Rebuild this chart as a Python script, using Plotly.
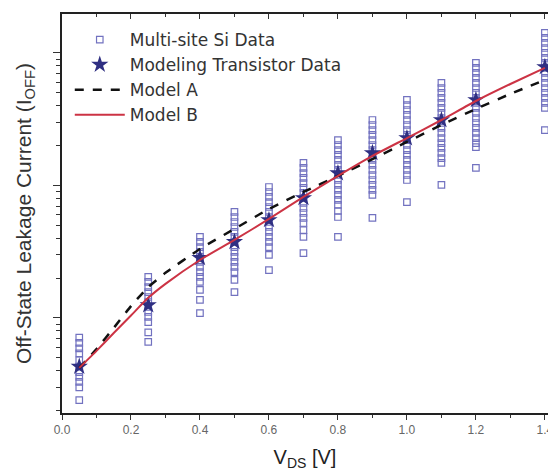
import plotly.graph_objects as go

# ---- data (I_OFF in nA, log scale) ----
vds_columns = [0.05, 0.25, 0.4, 0.5, 0.6, 0.7, 0.8, 0.9, 1.0, 1.1, 1.2, 1.4]
multisite = [
    [0.71, 0.65, 0.59, 0.54, 0.48, 0.43, 0.39, 0.36, 0.33, 0.30, 0.24],
    [2.04, 1.87, 1.71, 1.57, 1.44, 1.32, 1.21, 1.11, 1.02, 0.93, 0.78, 0.66],
    [4.09, 3.75, 3.43, 3.15, 2.89, 2.65, 2.43, 2.22, 2.04, 1.87, 1.63, 1.37, 1.09],
    [6.31, 5.78, 5.30, 4.86, 4.46, 4.09, 3.75, 3.43, 3.15, 2.89, 2.65, 2.43, 2.22, 1.94, 1.57],
    [9.74, 8.93, 8.19, 7.50, 6.88, 6.31, 5.78, 5.30, 4.86, 4.46, 4.09, 3.75, 3.43, 2.99, 2.30],
    [14.8, 13.6, 12.4, 11.4, 10.4, 9.58, 8.78, 8.05, 7.38, 6.76, 6.20, 5.69, 5.21, 4.61, 4.09, 3.09],
    [22.0, 20.2, 18.5, 17.0, 15.6, 14.3, 13.1, 12.0, 11.0, 10.1, 9.25, 8.48, 7.78, 7.13, 6.42, 5.78, 4.09],
    [31.2, 28.6, 26.2, 24.1, 22.0, 20.2, 18.5, 17.0, 15.6, 14.3, 13.1, 12.0, 11.0, 10.1, 9.25, 8.48, 5.69],
    [44.2, 40.5, 37.1, 34.1, 31.2, 28.6, 26.2, 24.1, 22.0, 20.2, 18.5, 17.0, 15.6, 14.3, 13.1, 12.0, 11.0, 7.50],
    [59.4, 54.4, 49.9, 45.8, 42.0, 38.5, 35.3, 32.3, 29.6, 27.2, 24.9, 22.8, 20.9, 19.2, 17.6, 16.1, 14.8, 10.1],
    [84.1, 77.1, 70.7, 64.8, 59.4, 54.4, 49.9, 45.8, 42.0, 38.5, 35.3, 32.3, 29.6, 27.2, 24.9, 22.8, 20.9, 19.5, 13.6],
    [141.6, 129.8, 119.0, 109.0, 100.0, 91.7, 84.1, 77.1, 70.7, 64.8, 59.4, 54.4, 49.9, 45.8, 42.0, 38.5, 26.2],
]
modeling_transistor = [0.43, 1.25, 2.84, 3.75, 5.49, 8.05, 12.4, 17.6, 22.8, 31.2, 44.2, 78.4]

model_vds = [0.05, 0.1, 0.15, 0.2, 0.25, 0.3, 0.4, 0.5, 0.6, 0.7, 0.8, 0.9, 1.0, 1.1, 1.2, 1.3, 1.4]
model_a = [0.42, 0.583, 0.841, 1.23, 1.71, 2.19, 3.32, 4.70, 6.65, 8.93, 11.8, 15.8, 21.3, 28.6, 37.8, 49.1, 62.5]
model_b = [0.42, 0.565, 0.77, 1.045, 1.42, 1.81, 2.74, 3.88, 5.59, 8.19, 11.8, 16.7, 22.8, 31.2, 43.4, 58.3, 77.1]

x_ticks = [0.0, 0.2, 0.4, 0.6, 0.8, 1.0, 1.2, 1.4]
x_tick_labels = ["0.0", "0.2", "0.4", "0.6", "0.8", "1.0", "1.2", "1.4"]

ms_x, ms_y = [], []
for v, col in zip(vds_columns, multisite):
    ms_x += [v] * len(col)
    ms_y += col

FONT = "Liberation Sans, Arial, sans-serif"

fig = go.Figure()
fig.add_trace(go.Scatter(
    x=ms_x, y=ms_y, mode="markers", name="Multi-site Si Data",
    marker=dict(symbol="square-open", size=6.5, color="#7272c0", line=dict(width=1.2, color="#7272c0")),
))
fig.add_trace(go.Scatter(
    x=vds_columns, y=modeling_transistor, mode="markers", name="Modeling Transistor Data",
    marker=dict(symbol="star", size=13, color="#2f2f82"),
))
fig.add_trace(go.Scatter(
    x=model_vds, y=model_a, mode="lines", name="Model A",
    line=dict(color="#111111", width=2.5, dash="dash", shape="spline", smoothing=0.5),
))
fig.add_trace(go.Scatter(
    x=model_vds, y=model_b, mode="lines", name="Model B",
    line=dict(color="#cc3344", width=2, shape="spline", smoothing=0.5),
))
# invisible trace for the mirrored top axis
fig.add_trace(go.Scatter(x=[0.05], y=[0.43], xaxis="x2", mode="markers",
                         marker=dict(opacity=0), showlegend=False, hoverinfo="skip"))

xrange = [0.0, 1.409]
fig.update_layout(
    width=548, height=471,
    margin=dict(l=62, r=0, t=14, b=58),
    paper_bgcolor="white", plot_bgcolor="white",
    font=dict(family=FONT, color="#333333"),
    showlegend=True,
    legend=dict(x=0.016, y=0.98, xanchor="left", yanchor="top",
                bgcolor="rgba(0,0,0,0)",
                font=dict(size=17, color="#333333", family="DejaVu Sans, Liberation Sans, sans-serif"),
                itemwidth=50, tracegroupgap=0),
    xaxis=dict(
        range=xrange, tickmode="array", tickvals=x_ticks, ticktext=x_tick_labels,
        ticks="outside", ticklen=5, tickwidth=1.2, tickcolor="#333",
        tickfont=dict(size=12, color="#666666"), ticklabeloverflow="allow", automargin=False,
        minor=dict(ticks="outside", ticklen=3, dtick=0.1, tick0=0, tickcolor="#333"),
        showline=True, linecolor="#222", linewidth=1.5, showgrid=False, zeroline=False,
        title=dict(text="V<sub>DS</sub> [V]", font=dict(size=20, color="#222"), standoff=15),
    ),
    xaxis2=dict(
        range=xrange, overlaying="x", side="top", tickmode="array", tickvals=x_ticks,
        showticklabels=False, ticks="inside", ticklen=5, tickcolor="#333", automargin=False,
        minor=dict(ticks="inside", ticklen=3, dtick=0.1, tick0=0, tickcolor="#333"),
        showline=True, linecolor="#222", linewidth=1.5, showgrid=False, zeroline=False,
    ),
    yaxis=dict(
        type="log", range=[-0.717, 2.294], dtick=1, automargin=False,
        ticks="outside", ticklen=7, tickcolor="#333", showticklabels=False,
        minor=dict(ticks="outside", ticklen=4, dtick="D1", tickcolor="#333"),
        showline=True, linecolor="#222", linewidth=1.5, showgrid=False, zeroline=False,
        title=dict(text="Off-State Leakage Current (I<sub>OFF</sub>)", font=dict(size=21, color="#333"), standoff=16),
    ),
)

fig.write_html("out.html")
